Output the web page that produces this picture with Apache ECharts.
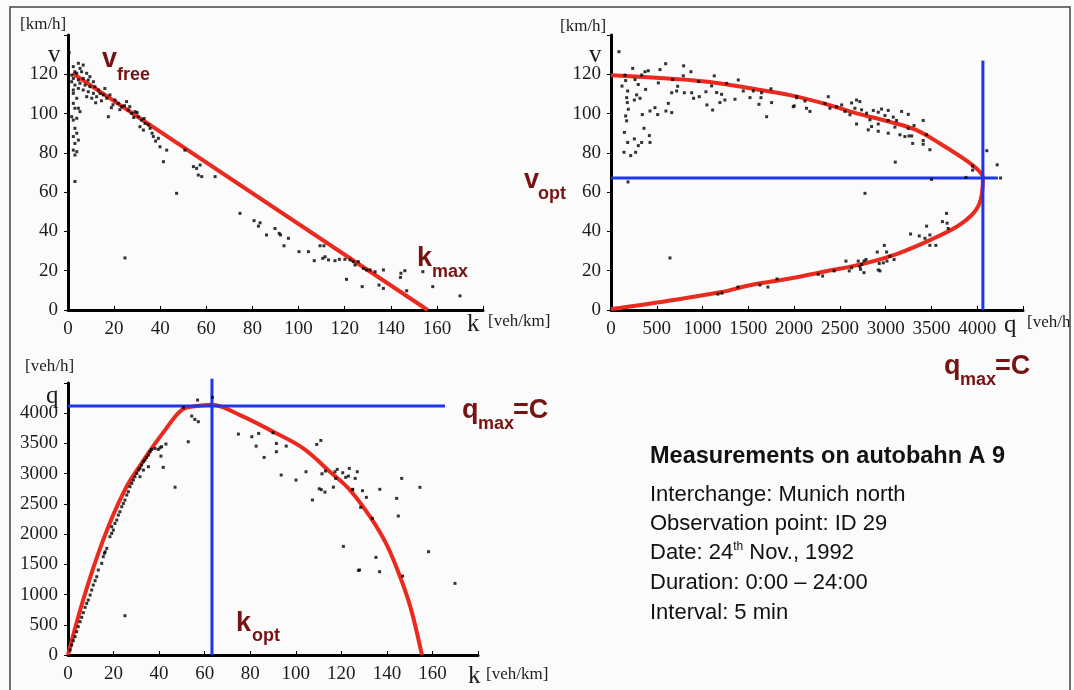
<!DOCTYPE html>
<html lang="en">
<head>
<meta charset="UTF-8">
<title>Measurements on autobahn A 9</title>
<script src="https://cdn.jsdelivr.net/npm/echarts@6/dist/echarts.min.js"></script>
<style>
  body { margin: 0; background: #fbfbfb; }
</style>
</head>
<body>
<div id="main" style="width: 1074px; height: 690px;"></div>
<script type="text/javascript">
// speed-density measurements [k veh/km, v km/h]
const speedDensity = [
  [0.5,131],[2.3,123.9],[4.5,125.6],[6.6,124.7],[5.2,123.0],[3.0,121.3],[1.6,119.6],[3.8,120.5],[5.9,121.3],[8.1,120.5],
  [9.5,118.8],[2.3,117.9],[4.5,117.1],[6.6,117.9],[8.8,117.1],[11.0,116.2],[1.6,116.2],[3.0,114.5],[5.2,115.4],[7.4,114.5],
  [9.5,113.7],[11.7,113.7],[13.2,112.0],[2.3,112.0],[4.5,112.8],[6.6,112.0],[8.8,111.1],[11.0,110.3],[13.9,110.3],[15.3,109.5],
  [12.4,108.6],[10.3,107.8],[8.1,108.6],[16.0,112.8],[2.3,110.3],[3.8,107.8],[2.3,105.2],[3.0,102.7],[4.5,102.7],[5.2,101.0],
  [1.6,98.4],[3.8,97.6],[2.3,96.7],[3.0,92.5],[3.8,90.0],[2.3,88.3],[4.5,86.5],[3.0,84.8],[2.3,81.4],[3.8,80.6],
  [3.0,78.9],[3.0,65.4],[16.8,107.8],[18.2,109.5],[20.4,106.9],[21.8,105.2],[23.3,103.5],[25.4,106.1],[26.2,101.8],[27.6,100.1],
  [29.1,101.0],[30.5,98.4],[31.9,96.7],[33.4,95.0],[34.8,94.2],[35.6,92.5],[31.2,93.3],[32.7,91.6],[37.0,88.3],[39.2,87.4],
  [39.9,83.1],[42.8,81.4],[50.7,81.4],[41.4,75.5],[54.4,73.0],[55.8,72.1],[57.3,73.8],[56.5,68.7],[58.0,67.9],[63.8,67.9],
  [17.5,98.4],[47.1,59.4],[24.7,26.5],[19.5,104.5],[22.5,102.0],[24.5,104.0],[28.5,98.0],[26.8,103.5],[30.0,100.5],[33.0,97.5],
  [36.5,90.0],[38.0,86.0],[14.5,106.5],[12.0,105.5],[18.8,103.0],
  [74.6,49.2],[80.7,45.5],[83.3,44.4],[82.6,42.7],[89.8,41.5],[91.6,39.0],[92.2,38.2],[86.1,38.2],[95.6,36.5],[93.7,32.7],
  [100.2,29.7],[104.3,29.7],[109.3,32.7],[111.0,32.7],[106.8,25.1],[110.5,26.3],[111.5,27.1],[113.0,25.5],[115.8,25.1],[117.7,25.8],
  [120.1,25.8],[122.3,25.5],[123.7,24.6],[124.5,22.9],[125.9,24.6],[128.1,21.2],[129.5,20.4],[131.0,20.4],[133.2,19.5],[136.8,20.4],
  [120.8,15.6],[127.6,11.9],[134.9,12.7],[136.8,11.0],[144.4,18.7],[146.1,20.0],[144.2,16.6],[146.9,9.8],[153.9,19.5],[158.2,11.9],
  [170.0,7.2]
];
// fitted line v(k)
const speedDensityFit = [[2,120.5],[156,0]];

// speed-flow measurements [q veh/h, v km/h]
const speedFlow = [
  [87,131.5],[237,123.0],[153,119.6],[160,116.8],[120,114],[182,111.5],[171,108.1],[178,105.6],[189,102.2],[160,98.8],
  [171,96.3],[146,90.4],[182,85.3],[142,80.3],[215,78.6],[269,80.3],[255,87.1],[298,83.7],[360,92.5],[335,85.3],
  [419,88.8],[426,85.3],[255,106.9],[280,109.5],[317,107.8],[262,117.3],[298,114.8],[335,119.6],[371,121.3],[407,121.8],
  [378,112.3],[342,99.5],[426,101.3],[480,103],[510,99.5],[517,115.6],[535,122.4],[597,125.4],[626,105.2],[600,101.3],
  [663,100.5],[663,110.6],[717,111.5],[674,117.3],[728,113.9],[793,124.3],[790,119.2],[801,110.6],[873,121.3],[881,110.6],
  [902,107.8],[957,116.3],[964,108.6],[1048,104.4],[1037,111.1],[1110,101.8],[1128,119.2],[1099,114.1],[1154,110.7],[1190,105.6],
  [1208,109.8],[1263,115.4],[1244,106.9],[1390,117.1],[1354,107.3],[1445,111.5],[1518,108.1],[1554,111.5],[1616,104.7],[1645,110.6],
  [1638,108.1],[1700,98.4],[1747,112.6],[1754,105.6],[2001,103.9],[2027,108.1],[1991,103.5],[2028,108.6],[2118,106.4],[2135,102.7],
  [2173,101.1],[2337,105.2],[2373,108.6],[2391,102.7],[2464,103.5],[2519,104.4],[2555,101.1],[2610,99.4],[2628,105.4],[2664,102.7],
  [2682,106.9],[2718,106.1],[2682,94.7],[2737,101.9],[2792,100.2],[2828,96.8],[2810,91.7],[2846,93.4],[2865,101.6],[2919,100.7],
  [2919,94.7],[2919,91.0],[2955,102.3],[2992,99.0],[3028,101.6],[3028,96.5],[3028,90.0],[3083,98.2],[3101,93.1],[3119,96.5],
  [3156,89.2],[3174,101.1],[3210,88.3],[3247,92.5],[3255,88.6],[3247,99.6],[3284,88.6],[3295,84.8],[3310,93.9],[3410,96.5],
  [3410,86.3],[3410,84.4],[3447,89.3],[3483,81.6],[3105,75.3],[3950,73.3],[3950,71.2],[3877,67.5],[3501,66.5],[4105,81.1],
  [4218,73.9],[4255,67.2],[2774,59.4],[186,65.2],[644,26.5],
  [3665,49.2],[3620,45.0],[3671,44.2],[3683,41.5],[3447,42.7],[3483,38.2],[3429,36.5],[3367,37.7],[3272,38.7],[3483,32.9],
  [3548,32.9],[2985,32.9],[2908,29.5],[3010,29.5],[3047,27.4],[3092,25.7],[3014,24.9],[2974,24.0],[2930,23.7],[2919,20.4],
  [2938,19.9],[2785,25.7],[2763,24.9],[2737,23.2],[2719,22.1],[2726,20.7],[2763,19.0],[2700,24.9],[2566,24.9],[2602,19.9],
  [2628,21.5],[2438,19.9],[2311,17.3],[2264,18.2],[1714,11.7],[1813,15.8],[1627,12.7],[1387,11.7],[1212,8.6],[1168,8.1]
];
// fitted curve v(q), free-flow branch then congested branch
const speedFlowFit = [
  [0,119.5],[1000,116.5],[1570,112.5],[1955,109.4],[2319,105.2],[2683,100.1],[3047,95.8],[3337,91.6],[3592,84.8],[3847,77.2],
  [4011,71.2],[4062,67.2],[4037,56.0],[3957,49.2],[3775,42.4],[3484,35.6],[3119,28.5],[2755,23.5],[2319,19.5],[1955,16.0],
  [1554,13.0],[1193,9.0],[600,4.5],[0,0.5]
];

// flow-density measurements [k veh/km, q veh/h]
const flowDensity = [
  [0.9,83],[1.6,165],[2.3,237],[3.1,303],[3.8,386],[4.5,469],[5.3,551],[6.0,623],[6.7,700],[7.5,788],
  [8.2,854],[8.9,909],[9.7,992],[10.4,1075],[11.1,1158],[11.9,1229],[12.6,1295],[13.3,1406],[14.8,1516],[15.5,1626],
  [16.3,1709],[17.0,1764],[16.0,1682],[18.4,1957],[19.2,2012],[19.9,2067],[20.6,2177],[21.4,2232],[19.2,2122],[22.1,2315],
  [22.8,2370],[23.6,2453],[24.3,2508],[25.0,2563],[25.8,2646],[26.5,2701],[27.2,2784],[28.0,2839],[28.7,2894],[29.4,2949],
  [30.2,3004],[30.9,3059],[31.6,3087],[32.3,3142],[33.1,3197],[33.8,3225],[34.5,3269],[35.3,3308],[36.0,3363],[36.7,3401],
  [35.3,3115],[33.1,3059],[31.6,2949],[38.2,3418],[39.6,3401],[40.8,3291],[40.4,3429],[41.1,3446],[41.8,3104],[43.0,3490],
  [47.0,2776],[52.8,3528],[54.3,3953],[55.7,3898],[57.2,3860],[56.9,4218],[63.4,4262],[50.6,4097],[25.0,650],
  [74.8,3655],[80.7,3611],[83.7,3666],[82.6,3456],[86.1,3269],[90.0,3677],[91.5,3500],[91.5,3363],[95.8,3456],[93.6,2977],
  [100.1,2894],[104.5,3032],[107.3,2564],[109.2,3484],[111.0,3550],[111.5,2998],[113.0,3043],[110.3,2750],[111.2,2735],[112.8,2695],
  [116.5,2777],[117.2,3032],[120.6,3015],[123.5,3087],[123.1,2960],[127.0,3032],[125.0,2735],[120.9,1797],[127.5,1400],[118.2,3071],
  [126.1,2922],[121.9,2939],[117.5,2922],[124.9,2741],[129.3,2718],[131.0,2608],[136.9,2741],[128.5,2443],[133.6,2260],[146.5,2922],
  [154.5,2774],[144.3,2591],[145.0,2299],[135.2,1615],[128.0,1406],[136.8,1378],[146.9,1306],[158.3,1709],[169.9,1185]
];
// fitted curve q(k)
const flowDensityFit = [
  [0,0],[4.5,634],[8.9,1185],[13.3,1682],[17.7,2122],[22.1,2508],[26.5,2839],[32.3,3170],[36.7,3418],[42.6,3721],
  [47.0,3942],[50.6,4070],[55.0,4112],[63.2,4140],[75.5,3969],[90.1,3694],[103.3,3418],[115.0,3032],[123.8,2729],[132.6,2288],
  [140.0,1819],[145.8,1295],[150.5,772],[155.4,0]
];

// characteristic values
const vOpt = 67.2;      // km/h
const qMaxTop = 4062;   // veh/h, capacity in v-q diagram
const qCap = 4120;      // veh/h, capacity in q-k diagram
const kOpt = 63.2;      // veh/km

const densityTicks = [0, 20, 40, 60, 80, 100, 120, 140, 160];
const speedTicks = [0, 20, 40, 60, 80, 100, 120];
const flowTicks = [0, 500, 1000, 1500, 2000, 2500, 3000, 3500, 4000];

const chart = echarts.init(document.getElementById('main'));

const serif = 'Liberation Serif';
const sans = 'Liberation Sans';
const maroon = '#761313';
const red = '#ea2a1e';
const blue = '#1e35ee';

function makeAxis(gridIndex, max, interval, ticks, isX) {
  return {
    type: 'value', gridIndex: gridIndex, min: 0, max: max, interval: interval,
    axisLine: { show: true, onZero: false, lineStyle: { color: '#000', width: 3 } },
    axisTick: { show: true, inside: isX, length: 4, lineStyle: { color: '#000', width: 1 } },
    splitLine: { show: false },
    axisLabel: {
      fontFamily: serif, fontSize: 19, color: '#1c1c1c', margin: 10,
      formatter: v => ticks.indexOf(v) >= 0 ? String(v) : ''
    }
  };
}

function scatter(ax, data) {
  return {
    type: 'scatter', xAxisIndex: ax, yAxisIndex: ax, data: data,
    symbol: 'rect', symbolSize: 3, itemStyle: { color: '#000' }, z: 5, silent: true
  };
}

function fitLine(ax, data) {
  return {
    type: 'line', xAxisIndex: ax, yAxisIndex: ax, data: data, smooth: 0.35,
    showSymbol: false, lineStyle: { color: red, width: 4 }, z: 2, silent: true
  };
}

function blueLine(ax, data) {
  return {
    type: 'line', xAxisIndex: ax, yAxisIndex: ax, data: data, clip: false,
    showSymbol: false, lineStyle: { color: blue, width: 3 }, z: 3, silent: true
  };
}

function label(x, y, text, font, size, weight, color, baseline) {
  return {
    type: 'text', x: x, y: y, z: 20, silent: true,
    style: {
      text: text, fontFamily: font, fontSize: size, fontWeight: weight || 'normal',
      fill: color || '#1c1c1c', verticalAlign: baseline || 'middle', align: 'left'
    }
  };
}

const graphics = [
  // axis names
  label(20, 25, '[km/h]', serif, 17),
  label(48, 55, 'v', serif, 25),
  label(467, 324, 'k', serif, 25),
  label(488, 322, '[veh/km]', serif, 17),
  label(560, 27, '[km/h]', serif, 17),
  label(589, 55, 'v', serif, 25),
  label(1004, 325, 'q', serif, 25),
  label(1027, 323, '[veh/h]', serif, 17),
  label(25, 367, '[veh/h]', serif, 17),
  label(46, 396, 'q', serif, 25),
  label(468, 676, 'k', serif, 25),
  label(486, 675, '[veh/km]', serif, 17),
  // annotations
  label(102, 73, 'v', sans, 27, 'bold', maroon, 'bottom'),
  label(117, 84, 'free', sans, 18, 'bold', maroon, 'bottom'),
  label(417, 272, 'k', sans, 27, 'bold', maroon, 'bottom'),
  label(432, 281, 'max', sans, 18, 'bold', maroon, 'bottom'),
  label(524, 194, 'v', sans, 27, 'bold', maroon, 'bottom'),
  label(538, 203, 'opt', sans, 18, 'bold', maroon, 'bottom'),
  label(944, 380, 'q', sans, 27, 'bold', maroon, 'bottom'),
  label(960, 389, 'max', sans, 18, 'bold', maroon, 'bottom'),
  label(995, 380, '=C', sans, 27, 'bold', maroon, 'bottom'),
  label(462, 424, 'q', sans, 27, 'bold', maroon, 'bottom'),
  label(478, 433, 'max', sans, 18, 'bold', maroon, 'bottom'),
  label(513, 424, '=C', sans, 27, 'bold', maroon, 'bottom'),
  label(236, 637, 'k', sans, 27, 'bold', maroon, 'bottom'),
  label(252, 645, 'opt', sans, 18, 'bold', maroon, 'bottom'),
  // measurement info
  label(650, 457, 'Measurements on autobahn A 9', sans, 23.5, 'bold', '#111'),
  label(650, 495, 'Interchange: Munich north', sans, 22, 'normal', '#111'),
  label(650, 524, 'Observation point: ID 29', sans, 22, 'normal', '#111'),
  {
    type: 'text', x: 650, y: 553, z: 20, silent: true,
    style: {
      text: '{a|Date: 24}{s|th}{a| Nov., 1992}', verticalAlign: 'middle', align: 'left',
      rich: {
        a: { fontFamily: sans, fontSize: 22, fill: '#111', color: '#111', lineHeight: 25 },
        s: { fontFamily: sans, fontSize: 12, fill: '#111', color: '#111', lineHeight: 25, verticalAlign: 'top', padding: [0, 0, 8, 0] }
      }
    }
  },
  label(650, 583, 'Duration: 0:00 \u2013 24:00', sans, 22, 'normal', '#111'),
  label(650, 613, 'Interval: 5 min', sans, 22, 'normal', '#111'),
  // frame, with the strip right of it covering overflowing text
  { type: 'rect', z: 30, shape: { x: 1070.5, y: 0, width: 10, height: 690 }, style: { fill: '#fbfbfb' }, silent: true },
  { type: 'rect', z: 31, shape: { x: 10, y: 7, width: 1060, height: 700 }, style: { fill: 'none', stroke: '#444', lineWidth: 1.5 }, silent: true }
];

const option = {
  animation: false,
  backgroundColor: '#fbfbfb',
  grid: [
    { left: 68, top: 35, width: 415, height: 275 },
    { left: 611, top: 35, width: 412, height: 275 },
    { left: 68, top: 383, width: 410, height: 272 }
  ],
  xAxis: [
    makeAxis(0, 180, 20, densityTicks, true),
    makeAxis(1, 4500, 500, flowTicks, true),
    makeAxis(2, 180, 20, densityTicks, true)
  ],
  yAxis: [
    makeAxis(0, 140, 20, speedTicks, false),
    makeAxis(1, 140, 20, speedTicks, false),
    makeAxis(2, 4500, 500, flowTicks, false)
  ],
  series: [
    fitLine(0, speedDensityFit),
    scatter(0, speedDensity),
    fitLine(1, speedFlowFit),
    blueLine(1, [[0, vOpt], [4226, vOpt]]),
    blueLine(1, [[qMaxTop, 0], [qMaxTop, 127]]),
    scatter(1, speedFlow),
    fitLine(2, flowDensityFit),
    blueLine(2, [[0, qCap], [165.5, qCap]]),
    blueLine(2, [[kOpt, 0], [kOpt, 4570]]),
    scatter(2, flowDensity)
  ],
  graphic: graphics
};

chart.setOption(option);
</script>
</body>
</html>
